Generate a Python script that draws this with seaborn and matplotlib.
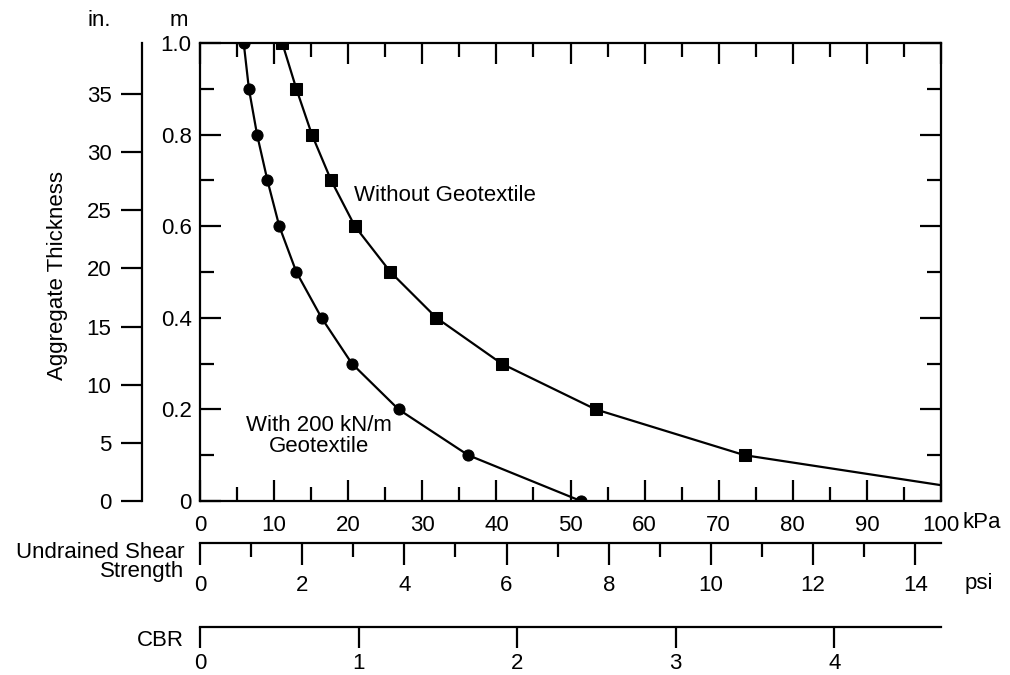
import numpy as np
import pandas as pd
import matplotlib
matplotlib.use("Agg")
import matplotlib.pyplot as plt
import seaborn as sns
from matplotlib.ticker import MultipleLocator, FixedLocator

# ---- data ----
thickness_with_m = [1.0, 0.9, 0.8, 0.7, 0.6, 0.5, 0.4, 0.3, 0.2, 0.1, 0.0]
strength_with_kpa = [5.9, 6.6, 7.7, 9.1, 10.7, 13.0, 16.4, 20.5, 26.8, 36.2, 51.4]

thickness_without_m = [1.0, 0.9, 0.8, 0.7, 0.6, 0.5, 0.4, 0.3, 0.2, 0.1, 0.0]
strength_without_kpa = [11.1, 13.0, 15.1, 17.7, 20.9, 25.7, 31.9, 40.7, 53.4, 73.5, 114.0]

kpa_ticks = [0, 10, 20, 30, 40, 50, 60, 70, 80, 90, 100]
m_ticks = [0.0, 0.2, 0.4, 0.6, 0.8, 1.0]
m_labels = ["0", "0.2", "0.4", "0.6", "0.8", "1.0"]
in_ticks = [0, 5, 10, 15, 20, 25, 30, 35]
psi_ticks = [0, 2, 4, 6, 8, 10, 12, 14]
cbr_ticks = [0, 1, 2, 3, 4]

KPA_PER_PSI = 6.895
KPA_PER_CBR = 21.4
M_PER_IN = 0.0254

df = pd.concat([
    pd.DataFrame({"kPa": strength_with_kpa, "m": thickness_with_m, "series": "with"}),
    pd.DataFrame({"kPa": strength_without_kpa, "m": thickness_without_m, "series": "without"}),
], ignore_index=True)

sns.set_style("ticks")
plt.rcParams["font.family"] = ["Liberation Sans", "DejaVu Sans"]
for k in ["text.color", "axes.labelcolor", "xtick.color", "ytick.color", "axes.edgecolor"]:
    plt.rcParams[k] = "black"
FS = 16

W, H = 1010, 675
fig = plt.figure(figsize=(W / 100, H / 100), dpi=100)
L, R, T, B = 200, 941, 43, 501
ax = fig.add_axes([L / W, 1 - B / H, (R - L) / W, (B - T) / H])

sns.lineplot(data=df, x="kPa", y="m", style="series",
             markers={"with": "o", "without": "s"}, dashes=False,
             color="black", estimator=None, sort=False, legend=False,
             linewidth=1.6, markersize=8, markeredgecolor="black", ax=ax)

ax.set_xlim(0, 100)
ax.set_ylim(0, 1)
ax.set_xlabel("")
ax.set_ylabel("")
for s in ax.spines.values():
    s.set_linewidth(1.6)
    s.set_color("black")
    s.set_visible(True)

ax.xaxis.set_major_locator(FixedLocator(kpa_ticks))
ax.xaxis.set_minor_locator(MultipleLocator(5))
ax.set_xticklabels([str(t) for t in kpa_ticks])
ax.yaxis.set_major_locator(FixedLocator(m_ticks))
ax.yaxis.set_minor_locator(MultipleLocator(0.1))
ax.set_yticklabels(m_labels)
ax.tick_params(which="both", direction="in", top=True, right=True,
               labeltop=False, labelright=False, width=1.6, color="black",
               labelcolor="black", labelsize=FS)
ax.tick_params(which="major", length=15)
ax.tick_params(which="minor", length=10)
ax.tick_params(axis="x", which="major", pad=10)
ax.tick_params(axis="y", which="major", pad=6)

# inch axis
sec_in = ax.secondary_yaxis((142 - L) / (R - L),
                            functions=(lambda m: m / M_PER_IN, lambda i: i * M_PER_IN))
sec_in.set_yticks(in_ticks)
sec_in.tick_params(direction="out", length=15, width=1.6, pad=7, labelsize=FS,
                   color="black", labelcolor="black")
sec_in.spines["left"].set_linewidth(1.6)
sec_in.spines["left"].set_color("black")

# psi axis
sec_psi = ax.secondary_xaxis(-(543 - B) / (B - T),
                             functions=(lambda k: k / KPA_PER_PSI, lambda p: p * KPA_PER_PSI))
sec_psi.set_xticks(psi_ticks)
sec_psi.xaxis.set_minor_locator(MultipleLocator(1))
sec_psi.tick_params(which="both", direction="out", width=1.6, labelsize=FS,
                    color="black", labelcolor="black")
sec_psi.tick_params(which="major", length=16, pad=7)
sec_psi.tick_params(which="minor", length=10)
sec_psi.spines["bottom"].set_linewidth(1.6)
sec_psi.spines["bottom"].set_color("black")

# CBR axis
sec_cbr = ax.secondary_xaxis(-(627 - B) / (B - T),
                             functions=(lambda k: k / KPA_PER_CBR, lambda c: c * KPA_PER_CBR))
sec_cbr.set_xticks(cbr_ticks)
sec_cbr.xaxis.set_minor_locator(FixedLocator([]))
sec_cbr.tick_params(direction="out", length=15, width=1.6, pad=4, labelsize=FS,
                    color="black", labelcolor="black")
sec_cbr.spines["bottom"].set_linewidth(1.6)
sec_cbr.spines["bottom"].set_color("black")

# annotations inside the plot
ax.text(20.8, 0.668, "Without Geotextile", fontsize=FS, ha="left", va="center")
ax.text(16.1, 0.143, "With 200 kN/m\nGeotextile", fontsize=FS, ha="center",
        va="center", multialignment="center", linespacing=1.0)

def ftext(x, y, s, **kw):
    fig.text(x / W, 1 - y / H, s, fontsize=FS, **kw)

ftext(99, 20, "in.", ha="center", va="center")
ftext(179, 20, "m", ha="center", va="center")
ftext(58, 275, "Aggregate Thickness", rotation=90, ha="center", va="center")
ftext(184, 552, "Undrained Shear", ha="right", va="center")
ftext(184, 572, "Strength", ha="right", va="center")
ftext(184, 640, "CBR", ha="right", va="center")
ftext(962, 522, "kPa", ha="left", va="center")
ftext(965, 583, "psi", ha="left", va="center")

fig.savefig("out.png", dpi=100)
